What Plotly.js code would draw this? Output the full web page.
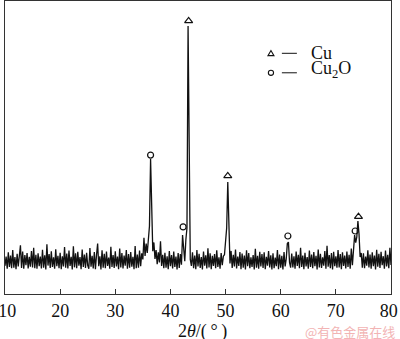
<!DOCTYPE html>
<html>
<head>
<meta charset="utf-8">
<script src="https://cdn.plot.ly/plotly-3.0.1.min.js"></script>
<style>html,body{margin:0;padding:0;background:#fff;}#chart{width:400px;height:339px;}</style>
</head>
<body>
<div id="chart"></div>
<script>
// XRD pattern: intensity (a.u.) sampled every 0.2 deg from 10.0 to 80.0
const startAngle = 10.0;
const stepAngle = 0.2;
const intensity = [
 96, 128, 86, 142, 92,
 131, 88, 150, 90, 126,
 85, 137, 94, 129, 166,
 89, 145, 86, 133, 98,
 140, 87, 127, 93, 147,
 91, 158, 88, 134, 86,
 139, 95, 128, 87, 151,
 90, 132, 84, 170, 97,
 136, 89, 146, 92, 125,
 86, 153, 95, 130, 88,
 141, 85, 129, 94, 160,
 90, 138, 87, 148, 96,
 127, 84, 163, 91, 139,
 88, 144, 97, 126, 85,
 152, 92, 135, 89, 141,
 98, 86, 157, 93, 130,
 87, 143, 85, 134, 172,
 95, 129, 84, 149, 90,
 137, 88, 145, 96, 124,
 86, 161, 92, 133, 89,
 146, 94, 128, 85, 155,
 91, 140, 87, 131, 97,
 150, 86, 136, 90, 143,
 93, 127, 85, 164, 88,
 135, 90, 148, 95, 139,
 118, 192, 130, 172, 140,
 178, 232, 461, 238, 146,
 176, 120, 150, 102, 142,
 108, 180, 96, 134, 88,
 141, 90, 129, 85, 147,
 95, 133, 87, 145, 92,
 128, 84, 140, 89, 136,
 100, 201, 140, 112, 185,
 225, 915, 330, 118, 96,
 142, 88, 131, 85, 150,
 94, 137, 89, 126, 84,
 145, 97, 132, 87, 156,
 91, 139, 85, 130, 96,
 136, 88, 149, 92, 125,
 86, 140, 98, 129, 134,
 172, 225, 382, 190, 104,
 147, 89, 134, 94, 152,
 87, 128, 96, 143, 85,
 138, 90, 131, 84, 149,
 95, 140, 88, 125, 92,
 133, 84, 154, 90, 130,
 86, 144, 94, 136, 89,
 142, 85, 127, 97, 147,
 91, 132, 84, 139, 88,
 124, 95, 150, 85, 135,
 90, 130, 84, 143, 94,
 120, 172, 177, 108, 90,
 138, 91, 129, 86, 145,
 96, 134, 88, 158, 92,
 131, 85, 141, 94, 126,
 86, 148, 92, 135, 88,
 143, 95, 130, 84, 152,
 91, 137, 89, 125, 97,
 147, 86, 165, 93, 133,
 88, 140, 84, 144, 95,
 129, 90, 150, 91, 136,
 85, 142, 96, 131, 87,
 145, 92, 134, 86, 155,
 98, 152, 201, 175, 195,
 249, 205, 126, 140, 90,
 139, 88, 128, 97, 149,
 91, 135, 86, 142, 95,
 131, 84, 151, 93, 137,
 89, 144, 98, 129, 86,
 148, 94, 134, 88, 158,
 99
];

// Phase markers (peak labels)
const cuPeakX = [43.3, 50.4, 74.1];
const cuPeakY = [932, 403, 264];
const cu2oPeakX = [36.4, 42.3, 61.3, 73.5];
const cu2oPeakY = [474, 229, 198, 215];

const xTicks = [10, 20, 30, 40, 50, 60, 70, 80];
const xTickText = ['\u00a010', '20', '30', '40', '50', '60', '70', '80\u00a0'];
const legendLabels = ['Cu', 'Cu<sub>2</sub>O'];
const xTitle = '2<i>θ</i>/(\u2009°\u2009)';
const watermark = '@有色金属在线';

const twoTheta = intensity.map((_, i) => +(startAngle + i * stepAngle).toFixed(1));

const serif = 'Liberation Serif, Times New Roman, serif';

const traces = [
  {x: twoTheta, y: intensity, type: 'scatter', mode: 'lines',
   line: {color: '#111', width: 1.3}, showlegend: false, hoverinfo: 'skip'},
  {x: cuPeakX, y: cuPeakY, type: 'scatter', mode: 'markers',
   marker: {symbol: 'triangle-up-open', size: 7, color: '#111', line: {width: 1.2, color: '#111'}},
   showlegend: false},
  {x: cu2oPeakX, y: cu2oPeakY, type: 'scatter', mode: 'markers',
   marker: {symbol: 'circle-open', size: 6, color: '#111', line: {width: 1.2, color: '#111'}},
   showlegend: false}
];

// legend glyph positions (paper fractions)
const lgX = 0.689, lgLineX = 0.7173, lgTextX = 0.7873;
const lgY = [0.8215, 0.755];

const shapes = [
  {type: 'path', xref: 'paper', yref: 'paper', xsizemode: 'pixel', ysizemode: 'pixel',
   xanchor: lgX, yanchor: lgY[0], path: 'M -3,-2.3 L 3,-2.3 L 0,2.8 Z',
   line: {color: '#111', width: 1.1}},
  {type: 'circle', xref: 'paper', yref: 'paper', xsizemode: 'pixel', ysizemode: 'pixel',
   xanchor: lgX, yanchor: lgY[1], x0: -2.6, x1: 2.6, y0: -2.6, y1: 2.6,
   line: {color: '#111', width: 1.1}},
  {type: 'line', xref: 'paper', yref: 'paper', xsizemode: 'pixel', ysizemode: 'pixel',
   xanchor: lgLineX, yanchor: lgY[0], x0: 0, x1: 15, y0: 0, y1: 0,
   line: {color: '#111', width: 1}},
  {type: 'line', xref: 'paper', yref: 'paper', xsizemode: 'pixel', ysizemode: 'pixel',
   xanchor: lgLineX, yanchor: lgY[1], x0: 0, x1: 15, y0: 0, y1: 0,
   line: {color: '#111', width: 1}}
];

const annotations = [
  {text: legendLabels[0], xref: 'paper', yref: 'paper', x: lgTextX, y: lgY[0],
   xanchor: 'left', yanchor: 'middle', showarrow: false, font: {family: serif, size: 18, color: '#111'}},
  {text: legendLabels[1], xref: 'paper', yref: 'paper', x: lgTextX, y: lgY[1] + 0.01,
   xanchor: 'left', yanchor: 'middle', showarrow: false, font: {family: serif, size: 18, color: '#111'}},
  {text: xTitle, xref: 'paper', yref: 'paper', x: 0.5125, y: -0.1263,
   xanchor: 'center', yanchor: 'middle', showarrow: false,
   font: {family: serif, size: 18, color: '#111'}},
  {text: watermark, xref: 'paper', yref: 'paper', x: 0.895, y: -0.1263,
   xanchor: 'center', yanchor: 'middle', showarrow: false,
   font: {family: 'Noto Sans CJK SC, sans-serif', size: 13, color: '#f2b4b4'}}
];

const layout = {
  width: 400, height: 339,
  margin: {l: 5, r: 9, t: 1, b: 45, pad: 0},
  paper_bgcolor: '#fff', plot_bgcolor: '#fff',
  showlegend: false,
  xaxis: {
    range: [10, 80], tickvals: xTicks, ticktext: xTickText,
    ticks: 'inside', ticklen: 5, tickwidth: 1, tickcolor: '#333',
    ticklabeloverflow: 'allow',
    showline: true, linecolor: '#333', linewidth: 1.3, mirror: true,
    showgrid: false, zeroline: false,
    tickfont: {family: serif, size: 18, color: '#111'}
  },
  yaxis: {
    range: [0, 1000], showticklabels: false, ticks: '',
    showline: true, linecolor: '#333', linewidth: 1.3, mirror: true,
    showgrid: false, zeroline: false
  },
  shapes: shapes,
  annotations: annotations
};

Plotly.newPlot('chart', traces, layout, {displayModeBar: false, staticPlot: true});
</script>
</body>
</html>
